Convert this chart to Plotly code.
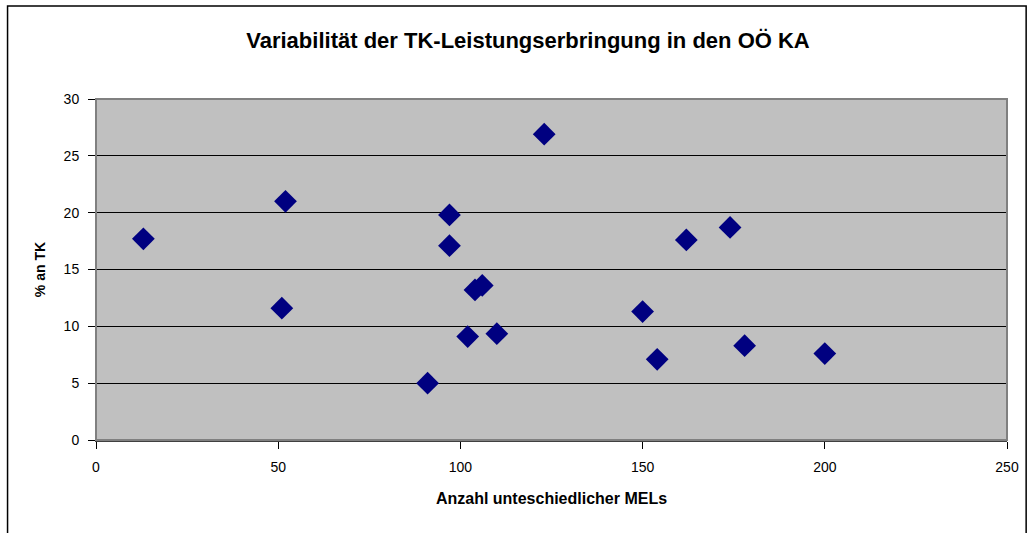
import plotly.graph_objects as go

# Data
mels = [13, 52, 51, 91, 97, 97, 102, 104, 106, 110, 123, 150, 154, 162, 174, 178, 200]
pct_tk = [17.7, 21.0, 11.6, 5.0, 19.8, 17.1, 9.1, 13.2, 13.6, 9.35, 26.9, 11.3, 7.1, 17.6, 18.7, 8.3, 7.6]

x_ticks = [0, 50, 100, 150, 200, 250]
y_ticks = [0, 5, 10, 15, 20, 25, 30]

title_text = "Variabilität der TK-Leistungserbringung in den OÖ KA"
x_title = "Anzahl unteschiedlicher MELs"
y_title = "% an TK"

FONT = "Liberation Sans, Arial, sans-serif"

fig = go.Figure()
fig.add_trace(go.Scatter(
    x=mels, y=pct_tk, mode="markers",
    marker=dict(symbol="diamond", size=17.5, color="#000080",
                line=dict(width=0)),
    showlegend=False, hoverinfo="x+y",
))

W, H = 1031, 533
L, R, T, B = 95.7, 21.7, 98.5, 93.3
pw = W - L - R
ph = H - T - B

def px_x(p):
    return (p - L) / pw

def px_y(p):
    return (H - B - p) / ph

fig.update_layout(
    width=W, height=H,
    margin=dict(l=L, r=R, t=T, b=B, pad=0),
    paper_bgcolor="white",
    plot_bgcolor="#C0C0C0",
    font=dict(family=FONT, color="black", size=14),
    title=dict(text="<b>" + title_text + "</b>", x=528 / W, xanchor="center",
               y=1 - 40 / H, yanchor="middle",
               font=dict(size=22, family=FONT, color="black")),
    xaxis=dict(range=[0, 250], tickvals=x_ticks, showgrid=False, zeroline=False,
               showline=True, linecolor="#404040", linewidth=2,
               ticks="outside", ticklen=7, tickcolor="black", tickwidth=1,
               ticklabelstandoff=6,
               tickfont=dict(size=14),
               title=dict(text="<b>" + x_title + "</b>", font=dict(size=16), standoff=19)),
    yaxis=dict(range=[0, 30], tickvals=y_ticks, showgrid=True, gridcolor="black",
               gridwidth=1, zeroline=False,
               showline=True, linecolor="black", linewidth=1,
               ticks="outside", ticklen=7, tickcolor="black", tickwidth=1,
               ticklabelstandoff=6,
               tickfont=dict(size=14),
               title=dict(text="<b>" + y_title + "</b>", font=dict(size=14), standoff=14)),
    shapes=[
        # plot area border (gray)
        dict(type="rect", xref="paper", yref="paper", x0=0, x1=1, y0=0, y1=1,
             line=dict(color="#808080", width=2), layer="above"),
        # outer chart border
        dict(type="rect", xref="paper", yref="paper",
             x0=px_x(7), x1=px_x(1028.5), y0=px_y(560), y1=px_y(5.5),
             line=dict(color="black", width=1.5), layer="above"),
    ],
)

fig.write_html("out.html", config={"displayModeBar": False},
               post_script="document.body.style.margin='0';")
